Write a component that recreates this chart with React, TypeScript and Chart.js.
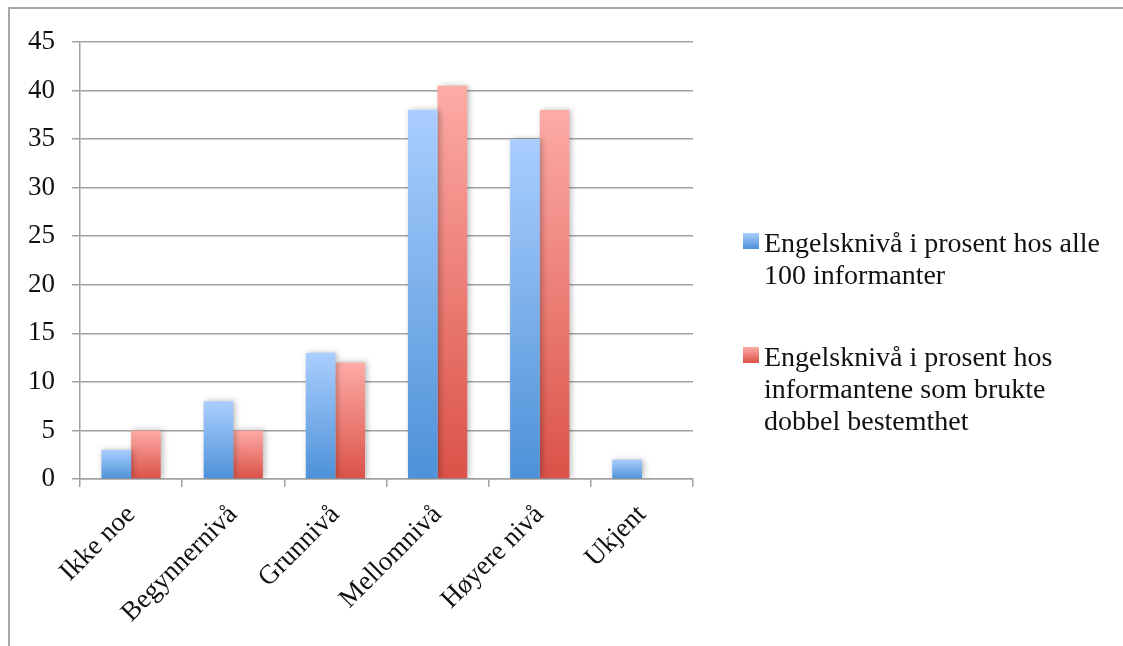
import React, { useEffect, useRef } from "react";
import { Chart, registerables } from "chart.js";

Chart.register(...registerables);

const categories = ["Ikke noe", "Begynnernivå", "Grunnivå", "Mellomnivå", "Høyere nivå", "Ukjent"];
const allInformants = [3, 8, 13, 38, 35, 2];
const doubleDefinite = [5, 5, 12, 40.5, 38, 0];
const seriesLabels = [
  "Engelsknivå i prosent hos alle 100 informanter",
  "Engelsknivå i prosent hos informantene som brukte dobbel bestemthet",
];
const legendLines = [
  ["Engelsknivå i prosent hos alle", "100 informanter"],
  ["Engelsknivå i prosent hos", "informantene som brukte", "dobbel bestemthet"],
];
const yMin = 0;
const yMax = 45;
const yStep = 5;

const gradientStops = [
  ["#aacefe", "#4d91d8"],
  ["#fdaba6", "#db5248"],
];

const FONT = "'Liberation Serif', 'Times New Roman', serif";
const GRID = "#a2a2a2";

function makeGradient(chart: any, value: number, i: number) {
  const y = chart.scales?.y;
  if (!y) return gradientStops[i][1];
  const top = y.getPixelForValue(value);
  const base = y.getPixelForValue(0);
  if (!isFinite(top) || !isFinite(base) || top === base) return gradientStops[i][1];
  const g = chart.ctx.createLinearGradient(0, top, 0, base);
  g.addColorStop(0, gradientStops[i][0]);
  g.addColorStop(1, gradientStops[i][1]);
  return g;
}

const shadowPlugin = {
  id: "barShadow",
  beforeDatasetsDraw(chart: any) {
    const ctx = chart.ctx;
    ctx.save();
    ctx.shadowColor = "rgba(0,0,0,0.28)";
    ctx.shadowBlur = 6;
    ctx.shadowOffsetX = 2;
    ctx.shadowOffsetY = 0;
  },
  afterDatasetsDraw(chart: any) {
    chart.ctx.restore();
  },
};

const legendPlugin = {
  id: "wrappedLegend",
  afterDraw(chart: any) {
    const ctx = chart.ctx;
    const x = chart.chartArea.right + 50;
    const lineH = 32;
    let baseline = 252;
    ctx.save();
    ctx.font = `28px ${FONT}`;
    ctx.textBaseline = "alphabetic";
    ctx.textAlign = "left";
    legendLines.forEach((lines, i) => {
      const bTop = baseline - 19;
      const g = ctx.createLinearGradient(0, bTop, 0, bTop + 16);
      g.addColorStop(0, gradientStops[i][0]);
      g.addColorStop(1, gradientStops[i][1]);
      ctx.fillStyle = g;
      ctx.fillRect(x, bTop, 16, 16);
      ctx.fillStyle = "#111";
      lines.forEach((t, k) => ctx.fillText(t, x + 21, baseline + k * lineH));
      baseline += lines.length * lineH + 50;
    });
    ctx.restore();
  },
};

export default function App() {
  const ref = useRef<HTMLCanvasElement | null>(null);

  useEffect(() => {
    if (!ref.current) return;
    Chart.defaults.font.family = FONT;
    Chart.defaults.font.size = 27;
    Chart.defaults.color = "#111";
    const chart = new Chart(ref.current, {
      type: "bar",
      data: {
        labels: categories,
        datasets: [
          {
            label: seriesLabels[0],
            data: allInformants,
            backgroundColor: (c: any) => makeGradient(c.chart, c.raw ?? 0, 0),
            categoryPercentage: 0.58,
            barPercentage: 1,
          },
          {
            label: seriesLabels[1],
            data: doubleDefinite,
            backgroundColor: (c: any) => makeGradient(c.chart, c.raw ?? 0, 1),
            categoryPercentage: 0.58,
            barPercentage: 1,
          },
        ],
      },
      options: {
        animation: false,
        responsive: false,
        devicePixelRatio: 1,
        layout: { padding: { left: 0, top: 42, right: 430, bottom: 0 } },
        plugins: { legend: { display: false }, tooltip: { enabled: false } },
        scales: {
          x: {
            grid: {
              drawOnChartArea: false,
              drawTicks: true,
              tickLength: 8,
              color: GRID,
              lineWidth: 1.5,
            },
            border: { color: GRID, width: 1.5 },
            ticks: { minRotation: 45, maxRotation: 45, padding: 12, font: { size: 27 } },
            afterFit: (s: any) => {
              s.height = 646 - 479;
            },
          },
          y: {
            min: yMin,
            max: yMax,
            grid: { color: GRID, lineWidth: 1.5, tickLength: 8 },
            border: { color: GRID, width: 1.5 },
            ticks: { stepSize: yStep, padding: 17, font: { size: 27 } },
            afterFit: (s: any) => {
              s.width = 80;
            },
          },
        },
      },
      plugins: [shadowPlugin, legendPlugin],
    });
    return () => chart.destroy();
  }, []);

  return (
    <div style={{ position: "fixed", left: 0, top: 0, width: 1123, height: 646, background: "#fff", overflow: "hidden" }}>
      <div
        style={{
          position: "absolute",
          left: 8,
          top: 7,
          width: 1200,
          height: 700,
          borderLeft: "2px solid #a8a8a8",
          borderTop: "2px solid #a8a8a8",
        }}
      />
      <canvas ref={ref} width={1123} height={646} style={{ position: "absolute", left: 0, top: 0 }} />
    </div>
  );
}
